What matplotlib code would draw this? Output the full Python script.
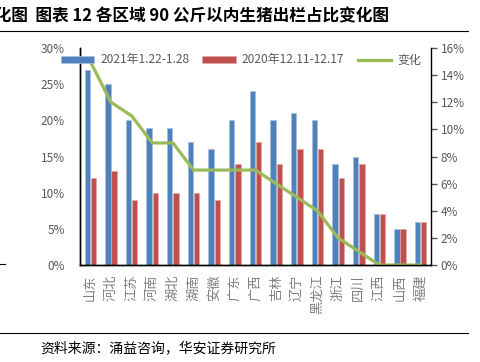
import numpy as np
import matplotlib.pyplot as plt
from matplotlib.ticker import PercentFormatter
from matplotlib.lines import Line2D

plt.rcParams['font.family'] = ['Noto Sans CJK SC', 'DejaVu Sans']

# data
regions = ['山东', '河北', '江苏', '河南', '湖北', '湖南', '安徽', '广东', '广西',
           '吉林', '辽宁', '黑龙江', '浙江', '四川', '江西', '山西', '福建']
share_2021 = [27, 25, 20, 19, 19, 17, 16, 20, 24, 20, 21, 20, 14, 15, 7, 5, 6]
share_2020 = [12, 13, 9, 10, 10, 10, 9, 14, 17, 14, 16, 16, 12, 14, 7, 5, 6]
change = [15, 12, 11, 9, 9, 7, 7, 7, 7, 6, 5, 4, 2, 1, 0, 0, 0]

blue = '#4F81BD'
red = '#C0504D'
green = '#9BBB59'
grey = '#595959'

fig = plt.figure(figsize=(4.8, 3.62), dpi=100)
ax = fig.add_axes([80/480, 1 - 265/362, (431-80)/480, (265-48)/362])
ax2 = ax.twinx()

x = np.arange(len(regions))
w = 0.26
ax.bar(x - w/2 - 0.02, np.array(share_2021)/100, w, color=blue, edgecolor='#A7C0DE', linewidth=0.5,
       label='2021年1.22-1.28')
ax.bar(x + w/2 + 0.02, np.array(share_2020)/100, w, color=red, edgecolor='#E0A8A6', linewidth=0.5,
       label='2020年12.11-12.17')
ax2.plot(x, np.array(change)/100, color=green, linewidth=2.3, label='变化')

ax.set_xlim(-0.5, len(regions) - 0.5)
ax.set_ylim(0, 0.30)
ax2.set_ylim(0, 0.16)
ax.set_yticks(np.arange(0, 0.31, 0.05))
ax2.set_yticks(np.arange(0, 0.161, 0.02))
ax.yaxis.set_major_formatter(PercentFormatter(1.0, decimals=0))
ax2.yaxis.set_major_formatter(PercentFormatter(1.0, decimals=0))

ax.set_xticks(x)
ax.set_xticklabels(regions, rotation=90, ha='center', va='top')
ax.tick_params(axis='x', length=0, pad=7, labelsize=9.5, colors='#7F7F7F')
ax.tick_params(axis='y', length=0, pad=11, labelsize=8.5, colors=grey)
ax2.tick_params(axis='y', length=4, width=1, direction='out', pad=3, labelsize=8.5, colors=grey)

for a in (ax, ax2):
    a.spines['top'].set_visible(False)
    for s in ('left', 'right', 'bottom'):
        a.spines[s].set_color('black')
        a.spines[s].set_linewidth(1)
ax.spines['right'].set_visible(False)

h1, l1 = ax.get_legend_handles_labels()
h2, l2 = ax2.get_legend_handles_labels()
leg = ax2.legend(h1 + h2, l1 + l2, ncol=3, frameon=False, fontsize=8.6,
                 loc='center left', bbox_to_anchor=(56/480, 1 - 60/362),
                 bbox_transform=fig.transFigure, handlelength=2.8, handleheight=0.5,
                 columnspacing=1.1, handletextpad=0.5, borderaxespad=0)
for t in leg.get_texts():
    t.set_color(grey)

# title, rules and source
fig.text(-22/480, 1 - 16/362, '变化图  图表 12 各区域 90 公斤以内生猪出栏占比变化图',
         fontsize=12, fontweight='bold', va='center', ha='left')
fig.add_artist(Line2D([0, 468/480], [1 - 31/362, 1 - 31/362], color='black', linewidth=0.8))
fig.add_artist(Line2D([0, 468/480], [1 - 333/362, 1 - 333/362], color='black', linewidth=0.8))
fig.add_artist(Line2D([0, 5/480], [1 - 264/362, 1 - 264/362], color='black', linewidth=0.8))
fig.text(40/480, 1 - 348/362, '资料来源：涌益咨询，华安证券研究所', fontsize=10, va='center', ha='left')

fig.savefig('out.png', dpi=100)
